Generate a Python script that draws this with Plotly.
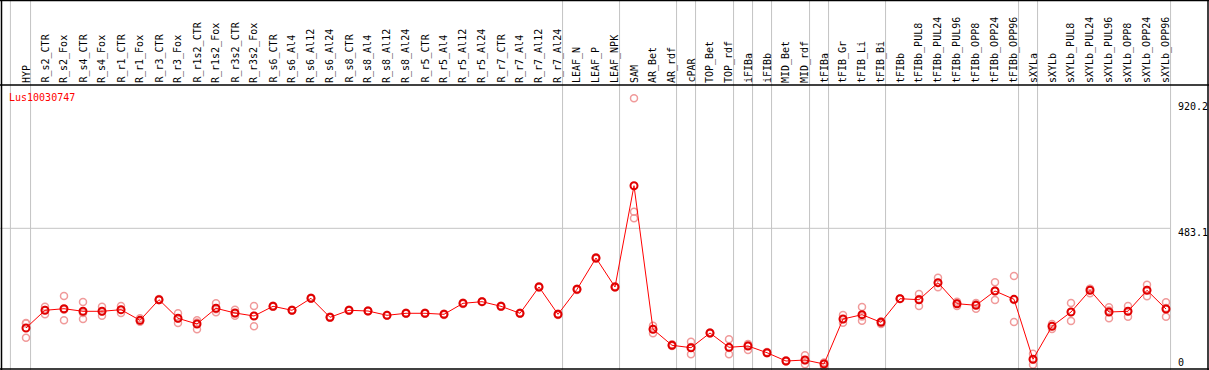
import plotly.graph_objects as go

samples = ["HYP", "R_s2_CTR", "R_s2_Fox", "R_s4_CTR", "R_s4_Fox", "R_r1_CTR", "R_r1_Fox",
           "R_r3_CTR", "R_r3_Fox", "R_r1s2_CTR", "R_r1s2_Fox", "R_r3s2_CTR", "R_r3s2_Fox",
           "R_s6_CTR", "R_s6_Al4", "R_s6_Al12", "R_s6_Al24", "R_s8_CTR", "R_s8_Al4", "R_s8_Al12",
           "R_s8_Al24", "R_r5_CTR", "R_r5_Al4", "R_r5_Al12", "R_r5_Al24", "R_r7_CTR", "R_r7_Al4",
           "R_r7_Al12", "R_r7_Al24", "LEAF_N", "LEAF_P", "LEAF_NPK", "SAM", "AR_Bet", "AR_rdf",
           "cPAR", "TOP_Bet", "TOP_rdf", "iFIBa", "iFIBb", "MID_Bet", "MID_rdf", "tFIBa",
           "tFIB_Gr", "tFIB_Li", "tFIB_Bi", "tFIBb", "tFIBb_PUL8", "tFIBb_PUL24", "tFIBb_PUL96",
           "tFIBb_OPP8", "tFIBb_OPP24", "tFIBb_OPP96", "sXYLa", "sXYLb", "sXYLb_PUL8",
           "sXYLb_PUL24", "sXYLb_PUL96", "sXYLb_OPP8", "sXYLb_OPP24", "sXYLb_OPP96"]

mean_values = [148, 207.5, 212.8, 204.1, 204.1, 209.5, 173.8, 243.1, 180.6, 161.4, 214.2,
               198.4, 188.3, 220.9, 207.5, 247.8, 183.9, 207.5, 205.1, 190.6, 197.4, 197.4,
               194.0, 231.0, 236.4, 220.9, 197.4, 285.8, 194.0, 278.1, 383.3, 285.8, 626.4,
               143.6, 89.8, 81.7, 131.1, 83.0, 87.4, 64.9, 37.0, 40.3, 26.9, 178.2, 192.7,
               167.1, 246.5, 243.1, 300.3, 229.6, 224.3, 272.3, 244.4, 42.7, 153.7, 201.7,
               274.7, 201.7, 204.1, 274.7, 211.8]

rep_a = [164.8, 219.6, 255.5, 235.4, 219.6, 221.9, 180.6, 245.4, 197.4, 173.8, 231.0, 209.5,
         221.9, 219, 206, 246, 182, 206, 204, 189, 196, 196, 192, 229, 235, 219, 196, 284, 192,
         276, 381, 284, 920.2, 155.7, 93.1, 101.9, 131.1, 109.9, 94.1, 67.2, 39.3, 56.2, 17.8,
         191.7, 218.5, 161.4, 246.5, 262.3, 317.1, 236.4, 232.0, 301.6, 322.8, 61.5, 161.4,
         232.0, 280.1, 217.5, 221.9, 293.5, 234.4]
rep_b = [163.1, 194.0, 173.8, 178.2, 189.3, 198.4, 169.1, 242.1, 164.8, 143.6, 210.8, 189.3,
         153.7, 221, 208, 248, 184, 207, 205, 191, 197, 197, 194, 231, 236, 221, 197, 286, 194,
         278, 383, 286, 539.0, 130.1, 87.4, 59.5, 132.8, 59.5, 74.0, 62.9, 35.3, 25.9, 30.3,
         165.8, 172.5, 169.8, 247.1, 221.9, 284.8, 221.9, 212.8, 242.1, 168.1, 24.5, 144.6,
         171.5, 264.6, 180.6, 185.9, 254.5, 185.9]
rep_c = [115.3, 208.5, 209.1, 198.4, 203.4, 208.5, 171.5, 242.1, 179.5, 166.8, 200.7, 196.4,
         189.3, 223, 209, 250, 186, 209, 207, 192, 199, 199, 196, 233, 238, 223, 199, 288, 196,
         280, 386, 288, 516.8, 144.6, 89.1, 84.1, 129.4, 80.7, 90.8, 64.9, 37.0, 39.3, 31.9,
         177.2, 186.9, 170.1, 245.4, 245.1, 299.2, 230.7, 228.0, 273.4, 242.1, 42.0, 154.7,
         201.7, 279.1, 207.1, 204.4, 275.7, 215.2]

# samples after which a group separator is drawn
group_ends = ["HYP", "R_r7_Al24", "LEAF_NPK", "AR_rdf", "cPAR", "TOP_rdf", "iFIBa", "iFIBb",
              "MID_rdf", "tFIBa", "tFIB_Bi", "tFIBb_OPP96", "sXYLa", "sXYLb_OPP96"]

gene_name = "Lus10030747"
y_tick_vals = [0, 483.1, 920.2]
y_tick_text = ["0", "483.1", "920.2"]

W, H = 1209, 370
x0_px, step_px = 26.0, 19.0
xr = [-x0_px / step_px, (W - x0_px) / step_px]
y_zero_px, px_per_unit = 372.0, 0.29742
yr = [(y_zero_px - H) / px_per_unit, y_zero_px / px_per_unit]

def py(px):
    return 1 - px / H

def px_x(px):
    return px / W

idx = list(range(len(samples)))
fig = go.Figure()

rx, ry = [], []
for i in idx:
    for r in (rep_a, rep_b, rep_c):
        rx.append(i)
        ry.append(r[i])
fig.add_trace(go.Scatter(x=rx, y=ry, mode="markers", cliponaxis=False,
                         marker=dict(symbol="circle-open", size=7, color="#f09a9a",
                                     line=dict(width=1.5, color="#f09a9a")),
                         hoverinfo="skip", showlegend=False))
fig.add_trace(go.Scatter(x=idx, y=mean_values, mode="lines+markers", cliponaxis=False,
                         line=dict(color="#ff0000", width=1),
                         marker=dict(symbol="circle-open", size=7, color="#e00000",
                                     line=dict(width=2, color="#e00000")),
                         showlegend=False))

shapes = []
gray = "#c4c4c4"
# left-most separator
shapes.append(dict(type="line", xref="x", yref="paper", x0=-0.82, x1=-0.82, y0=0, y1=1,
                   line=dict(color=gray, width=1), layer="below"))
for name in group_ends:
    i = samples.index(name)
    shapes.append(dict(type="line", xref="x", yref="paper", x0=i + 0.24, x1=i + 0.24,
                       y0=0, y1=1, line=dict(color=gray, width=1), layer="below"))
shapes.append(dict(type="line", xref="paper", yref="y", x0=0, x1=px_x(1170),
                   y0=y_tick_vals[1], y1=y_tick_vals[1], line=dict(color=gray, width=1),
                   layer="below"))
black = "#000000"
for (a, b, c, d) in [(0, 0.5, W, 0.5), (0, 85, W, 85), (0, 369, W, 369)]:
    shapes.append(dict(type="line", xref="paper", yref="paper", x0=px_x(a), x1=px_x(c),
                       y0=py(b), y1=py(d), line=dict(color=black, width=1.5)))
for xp in (1.5, 1208):
    shapes.append(dict(type="line", xref="paper", yref="paper", x0=px_x(xp), x1=px_x(xp),
                       y0=0, y1=1, line=dict(color=black, width=1.5)))

font_mono = "DejaVu Sans Mono"
annotations = []
for i, s in enumerate(samples):
    annotations.append(dict(x=i, y=py(84), xref="x", yref="paper", text=s, showarrow=False,
                            textangle=-90, xanchor="center", yanchor="bottom", borderpad=0,
                            font=dict(family=font_mono, size=10, color="black")))
annotations.append(dict(x=px_x(8), y=py(97), xref="paper", yref="paper", text=gene_name,
                        showarrow=False, xanchor="left", yanchor="middle", borderpad=0,
                        font=dict(family=font_mono, size=10, color="#ff0000")))
label_centers = [362.3, 232.3, 106.7]
for v, t, c in zip(y_tick_vals, y_tick_text, label_centers):
    annotations.append(dict(x=px_x(1177), y=py(c), xref="paper", yref="paper", text=t,
                            showarrow=False, xanchor="left", yanchor="middle", borderpad=0,
                            font=dict(family=font_mono, size=10, color="black")))

fig.update_layout(width=W, height=H, margin=dict(l=0, r=0, t=0, b=0, pad=0),
                  paper_bgcolor="white", plot_bgcolor="white",
                  xaxis=dict(range=xr, visible=False, fixedrange=True),
                  yaxis=dict(range=yr, visible=False, fixedrange=True),
                  shapes=shapes, annotations=annotations, showlegend=False)

fig.write_html("out.html", config={"displayModeBar": False},
               post_script="document.body.style.margin='0';")
